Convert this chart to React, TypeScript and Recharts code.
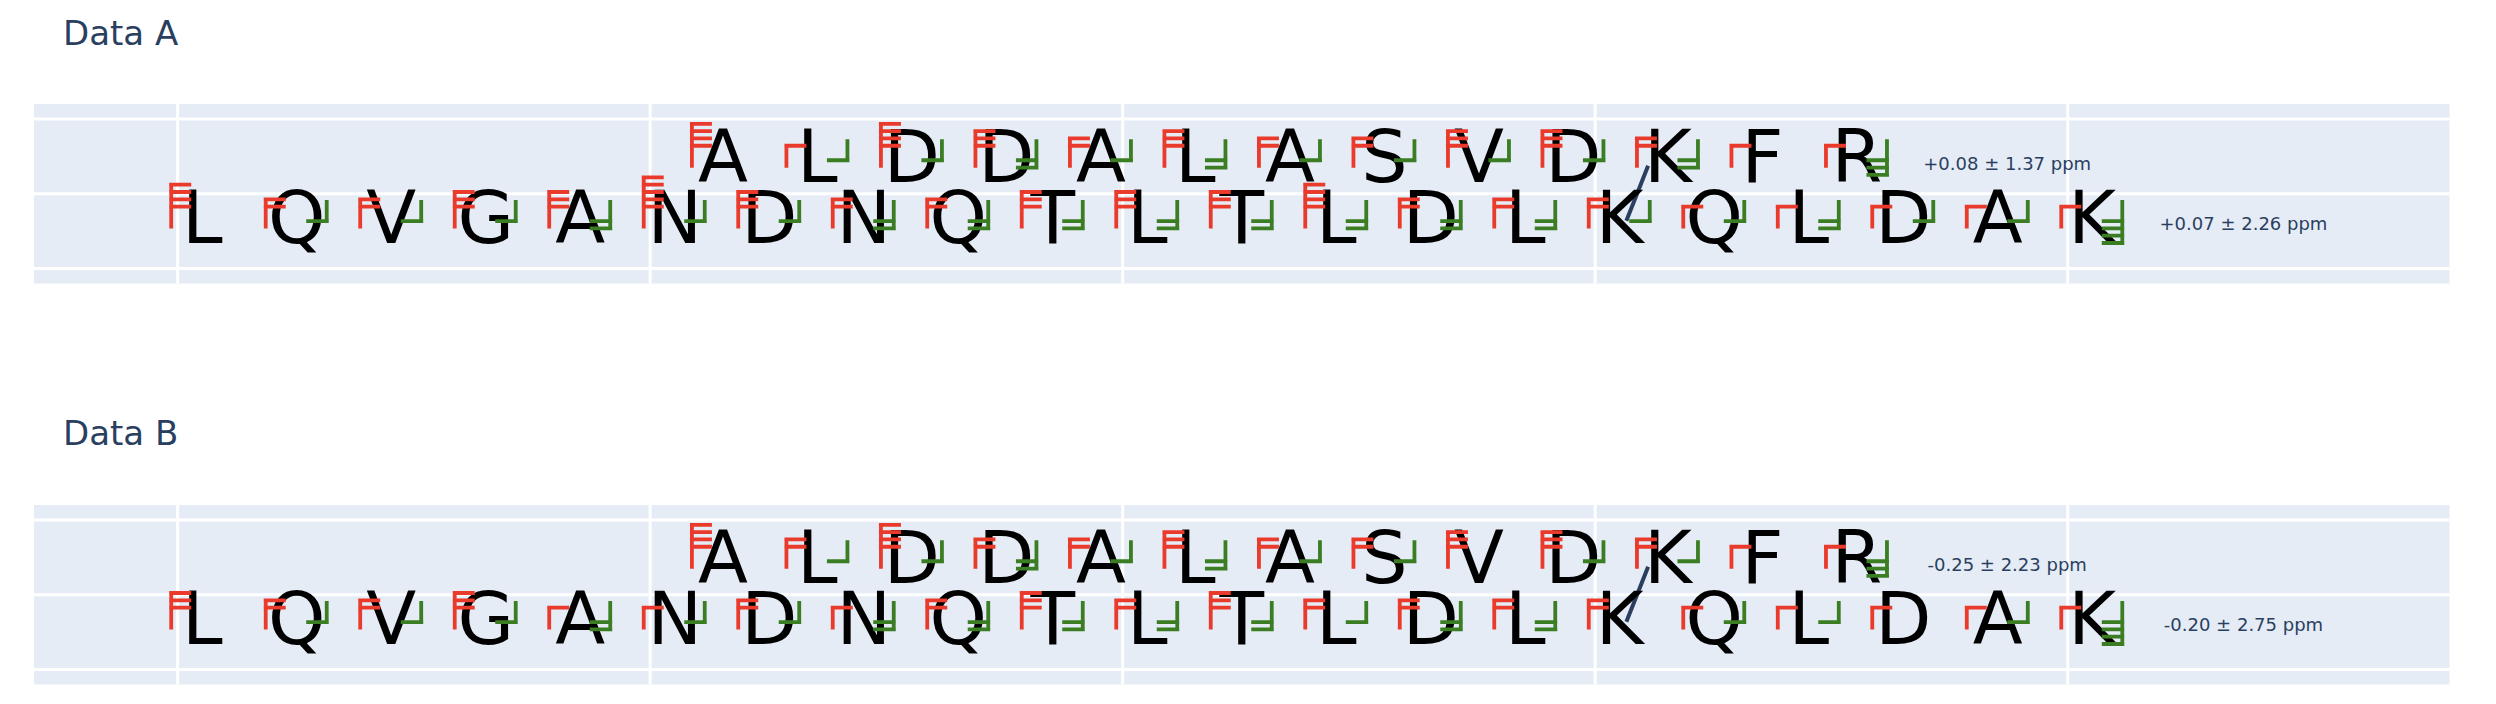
import React from 'react';
import { ComposedChart, Scatter, XAxis, YAxis, CartesianGrid, ReferenceLine } from 'recharts';

// peptide sequences (alpha = lower row, beta = upper row)
const alphaSeq = 'LQVGANDNQTLTLDLKQLDAK'.split('');
const betaSeq = 'ALDDALASVDKFR'.split('');

// fragment counts per residue
// red = N-terminal marks (left of residue), green = C-terminal marks (right of residue)
const aAlphaRed = [4, 2, 2, 3, 3, 5, 3, 2, 2, 3, 3, 3, 4, 2, 2, 2, 1, 1, 1, 1, 1];
const aAlphaGreen = [0, 1, 1, 1, 2, 1, 1, 2, 2, 2, 2, 2, 2, 2, 2, 1, 1, 2, 1, 1, 4];
const aBetaRed = [4, 1, 4, 3, 2, 3, 2, 2, 3, 3, 2, 1, 1];
const aBetaGreen = [0, 1, 1, 2, 1, 2, 1, 1, 1, 1, 2, 0, 3];

const bAlphaRed = [3, 2, 2, 3, 1, 1, 2, 1, 2, 3, 2, 3, 2, 2, 2, 2, 1, 1, 1, 1, 1];
const bAlphaGreen = [0, 1, 1, 1, 2, 1, 1, 2, 2, 2, 2, 2, 1, 2, 2, 0, 1, 1, 0, 1, 4];
const bBetaRed = [4, 2, 4, 2, 2, 3, 2, 2, 3, 3, 2, 1, 1];
const bBetaGreen = [0, 1, 1, 2, 1, 2, 1, 1, 0, 1, 1, 0, 3];

const aLabels = ['+0.08 ± 1.37 ppm', '+0.07 ± 2.26 ppm'];
const bLabels = ['-0.25 ± 2.23 ppm', '-0.20 ± 2.75 ppm'];

const titles = ['Data A', 'Data B'];

// crosslink: alpha K16 <-> beta K11
const linkAlpha = 15;
const linkBeta = 10;

const xTicks = [0, 5, 10, 15, 20];
const yTicks = [-1, 0, 1];
const X_DOMAIN = [-1.52, 24.04];
const Y_DOMAIN = [-1.2, 1.2];

const ALPHA_X0 = 0.26;
const BETA_X0 = 5.77;
const ALPHA_Y = -0.66;
const BETA_Y = 0.154;

const RED = '#e93a2b';
const GREEN = '#3a7d22';
const INK = '#2a3f5f';
const FONT = '"DejaVu Sans", Verdana, sans-serif';

const residues = (seq: string[], x0: number, y: number) =>
  seq.map((aa, i) => ({ x: i + x0, y, aa }));

const marks = (counts: number[], x0: number, y: number) =>
  counts.map((n, i) => ({ x: i + x0, y, n })).filter((d) => d.n > 0);

const Letter = (props: any) => {
  const { cx, cy, payload } = props;
  return (
    <text x={cx} y={cy} textAnchor="middle" fontSize={73} fontFamily={FONT} fill="#000">
      {payload.aa}
    </text>
  );
};

const RedMark = (props: any) => {
  const { cx, cy, payload } = props;
  const xv = cx - 31;
  const bottom = cy - 14.5;
  const top = bottom - 22 - 7.3 * (payload.n - 1);
  let d = `M${xv},${bottom}V${top}`;
  for (let k = 0; k < payload.n; k++) {
    d += ` M${xv - 2},${top + 7.3 * k}H${cx - 11}`;
  }
  return <path d={d} stroke={RED} strokeWidth={3.8} fill="none" />;
};

const GreenMark = (props: any) => {
  const { cx, cy, payload } = props;
  const xv = cx + 30;
  const top = cy - 43;
  const first = top + 21;
  const bottom = first + 7.3 * (payload.n - 1);
  let d = `M${xv},${top}V${bottom}`;
  for (let k = 0; k < payload.n; k++) {
    d += ` M${cx + 9.5},${first + 7.3 * k}H${xv + 2}`;
  }
  return <path d={d} stroke={GREEN} strokeWidth={3.8} fill="none" />;
};

const Note = (props: any) => {
  const { cx, cy, payload } = props;
  return (
    <text x={cx} y={cy + 6.5} textAnchor="middle" fontSize={18} fontFamily={FONT} fill={INK}>
      {payload.label}
    </text>
  );
};

// grid positions from the axis scale (fallback: linear over the plot offset)
const verticalGen = (p: any) => {
  const s = p?.xAxis?.scale;
  if (typeof s === 'function') return xTicks.map((t) => s(t));
  const { left, width } = p.offset;
  return xTicks.map((t) => left + ((t - X_DOMAIN[0]) / (X_DOMAIN[1] - X_DOMAIN[0])) * width);
};

const horizontalGen = (p: any) => {
  const s = p?.yAxis?.scale;
  if (typeof s === 'function') return yTicks.map((t) => s(t));
  const { top, height } = p.offset;
  return yTicks.map((t) => top + ((Y_DOMAIN[1] - t) / (Y_DOMAIN[1] - Y_DOMAIN[0])) * height);
};

const NoTick = () => <g />;

interface PanelProps {
  alphaRed: number[];
  alphaGreen: number[];
  betaRed: number[];
  betaGreen: number[];
  labels: string[];
}

const Panel: React.FC<PanelProps> = ({ alphaRed, alphaGreen, betaRed, betaGreen, labels }) => {
  const letters = [...residues(alphaSeq, ALPHA_X0, ALPHA_Y), ...residues(betaSeq, BETA_X0, BETA_Y)];
  const reds = [...marks(alphaRed, ALPHA_X0, ALPHA_Y), ...marks(betaRed, BETA_X0, BETA_Y)];
  const greens = [...marks(alphaGreen, ALPHA_X0, ALPHA_Y), ...marks(betaGreen, BETA_X0, BETA_Y)];
  const notes = [
    { x: betaSeq.length - 1 + BETA_X0 + 1.59, y: 0.41, label: labels[0] },
    { x: alphaSeq.length - 1 + ALPHA_X0 + 1.6, y: -0.4, label: labels[1] },
  ];

  return (
    <ComposedChart width={2496} height={300} margin={{ top: 104, right: 46.5, bottom: 16.5, left: 34 }}>
      <CartesianGrid
        fill="#E5ECF6"
        fillOpacity={1}
        stroke="#ffffff"
        strokeWidth={3}
        verticalCoordinatesGenerator={verticalGen}
        horizontalCoordinatesGenerator={horizontalGen}
      />
      <XAxis
        type="number"
        dataKey="x"
        domain={X_DOMAIN}
        ticks={xTicks}
        allowDataOverflow
        height={0}
        tick={NoTick}
        tickLine={false}
        axisLine={false}
      />
      <YAxis
        type="number"
        dataKey="y"
        domain={Y_DOMAIN}
        ticks={yTicks}
        allowDataOverflow
        width={0}
        tick={NoTick}
        tickLine={false}
        axisLine={false}
      />
      <Scatter data={letters} shape={Letter} isAnimationActive={false} />
      <Scatter data={reds} shape={RedMark} isAnimationActive={false} />
      <Scatter data={greens} shape={GreenMark} isAnimationActive={false} />
      <Scatter data={notes} shape={Note} isAnimationActive={false} />
      <ReferenceLine
        segment={[
          { x: linkAlpha + ALPHA_X0 + 0.07, y: ALPHA_Y + 0.3 },
          { x: linkBeta + BETA_X0 - 0.21, y: BETA_Y + 0.22 },
        ]}
        stroke={INK}
        strokeWidth={4}
        ifOverflow="visible"
      />
    </ComposedChart>
  );
};

export default function App() {
  return (
    <div style={{ position: 'absolute', left: 0, top: 0, width: 2496, height: 704, background: '#fff' }}>
      <div style={{ position: 'absolute', left: 0, top: 0 }}>
        <Panel alphaRed={aAlphaRed} alphaGreen={aAlphaGreen} betaRed={aBetaRed} betaGreen={aBetaGreen} labels={aLabels} />
      </div>
      <div style={{ position: 'absolute', left: 0, top: 400.5 }}>
        <Panel alphaRed={bAlphaRed} alphaGreen={bAlphaGreen} betaRed={bBetaRed} betaGreen={bBetaGreen} labels={bLabels} />
      </div>
      <svg width={2496} height={704} style={{ position: 'absolute', left: 0, top: 0, pointerEvents: 'none' }}>
        <text x={63} y={45} fontSize={34} fontFamily={FONT} fill={INK}>{titles[0]}</text>
        <text x={63} y={445} fontSize={34} fontFamily={FONT} fill={INK}>{titles[1]}</text>
      </svg>
    </div>
  );
}
